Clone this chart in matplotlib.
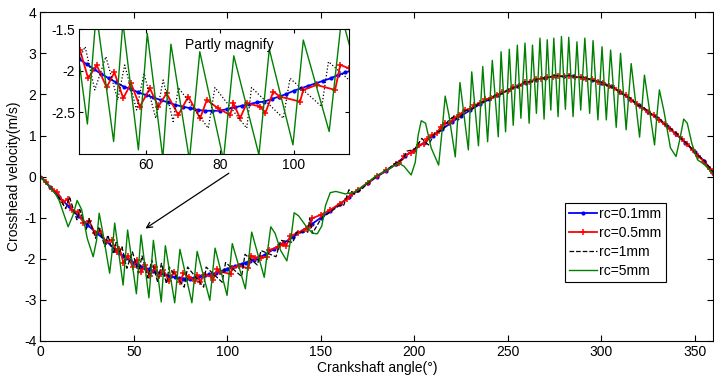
import numpy as np
import matplotlib
matplotlib.use("Agg")
import matplotlib.pyplot as plt

plt.rcParams['font.family'] = ['Liberation Sans', 'DejaVu Sans']
plt.rcParams['font.size'] = 10
plt.rcParams['axes.unicode_minus'] = False

# rc = 0.1 mm (blue, dots)
blue_x = [0, 5, 10, 15, 20, 25, 30, 35, 40,
          42, 44, 46, 48, 50, 52, 54, 56, 58, 60, 62, 64, 66, 68, 70, 72, 74, 76, 78,
          80, 82, 84, 86, 88, 90, 92, 94, 96, 98, 100, 102, 104, 106, 108, 110, 112, 114, 116,
          120, 125, 130, 135, 140, 145, 150, 155, 160, 165, 170, 175, 180, 185, 190, 195,
          200, 205, 210, 215, 220, 225, 230, 235, 240, 245, 250, 255, 260, 265, 270, 275,
          280, 285, 290, 295, 300, 305, 310, 315, 320, 325, 330, 335, 340, 345, 350, 355, 360]
blue_y = [0.00, -0.25, -0.50, -0.72, -0.95, -1.17, -1.37, -1.56, -1.78,
          -1.86, -1.92, -1.98, -2.04, -2.09, -2.14, -2.19, -2.22, -2.26, -2.29, -2.32, -2.35,
          -2.38, -2.41, -2.43, -2.45, -2.47, -2.48, -2.48, -2.48, -2.46, -2.44, -2.42, -2.40,
          -2.38, -2.37, -2.34, -2.31, -2.28, -2.24, -2.21, -2.18, -2.15, -2.12, -2.09, -2.05,
          -2.02, -1.99,
          -1.90, -1.76, -1.62, -1.47, -1.32, -1.16, -1.00, -0.84, -0.67, -0.50, -0.33, -0.16,
          0.00, 0.14, 0.30, 0.50, 0.66, 0.82, 1.00, 1.16, 1.32, 1.48, 1.62, 1.76, 1.88, 1.99,
          2.10, 2.20, 2.29, 2.36, 2.41, 2.44, 2.45, 2.44, 2.41, 2.36, 2.29, 2.20, 2.06, 1.90,
          1.74, 1.57, 1.42, 1.23, 1.03, 0.83, 0.60, 0.38, 0.09]

# rc = 0.5 mm (red, plus markers)
red_x = [0, 3, 6, 9, 12, 14.5, 17, 20, 23, 26, 29, 32, 35, 38, 41, 42.2, 44.4, 46.7, 49.4,
         51.5, 53.9, 56.0, 58.4, 61.1, 63.4, 65.6, 68.8, 71.5, 74.7, 76.5, 79.5, 82.8, 83.7,
         85.5, 87.3, 91.0, 92.3, 94.5, 96.3, 101.7, 102.6, 106.2, 111.2, 112.6, 115, 118,
         121, 122.5, 127, 130, 131.5, 133.5, 138, 142, 144, 145.5, 150, 155, 160, 164, 166.5,
         170, 175, 180, 185, 190, 192, 194.5, 198, 200, 202.3, 205, 207, 209.4, 212, 214,
         216.5, 219, 221, 224, 227, 230, 232, 235, 238, 241, 244, 247, 250, 253, 256, 259,
         262, 265, 268, 271, 274, 277, 280, 283, 286, 289, 292, 295, 298, 301, 304, 307, 310,
         313, 316, 319, 322, 325, 328, 331, 334, 337, 340, 343, 346, 349, 352, 355, 358, 360]
red_y = [0.00, -0.12, -0.31, -0.37, -0.62, -0.55, -0.82, -0.86, -1.12, -1.08, -1.36, -1.33,
         -1.60, -1.55, -1.83, -1.75, -2.09, -1.93, -2.20, -2.02, -2.33, -2.15, -2.43, -2.21,
         -2.43, -2.27, -2.53, -2.31, -2.57, -2.35, -2.45, -2.53, -2.39, -2.57, -2.39, -2.43,
         -2.51, -2.25, -2.31, -2.37, -2.23, -2.17, -2.23, -1.93, -1.97, -1.97, -1.95, -1.78,
         -1.72, -1.64, -1.68, -1.45, -1.36, -1.28, -1.20, -1.01, -0.93, -0.81, -0.66, -0.55,
         -0.42, -0.32, -0.15, 0.01, 0.15, 0.30, 0.33, 0.50, 0.58, 0.62, 0.77, 0.80, 0.92, 1.01,
         1.05, 1.20, 1.30, 1.30, 1.42, 1.50, 1.62, 1.64, 1.74, 1.78, 1.88, 1.91, 1.98, 2.05,
         2.09, 2.17, 2.21, 2.30, 2.31, 2.38, 2.38, 2.43, 2.42, 2.46, 2.44, 2.46, 2.42, 2.42,
         2.37, 2.37, 2.30, 2.27, 2.21, 2.15, 2.05, 1.98, 1.86, 1.76, 1.68, 1.58, 1.49, 1.38,
         1.27, 1.15, 1.04, 0.92, 0.79, 0.64, 0.50, 0.36, 0.18, 0.08]

# rc = 1 mm (black dashed)
black_x = [0, 5, 10, 13.5, 15.5, 19.5, 21, 24.5, 26, 29.5, 31, 34.5, 36, 39, 40.5, 42.2, 43.6,
           46.2, 49.2, 52.4, 54.3, 57.5, 59.5, 62.7, 64.7, 67.4, 68.8, 76.9, 78.7, 87.3, 88.6,
           97.2, 99.0, 107.6, 109.4, 116, 118, 126, 128.5, 135, 137, 143, 144, 145.5, 150,
           155, 160, 162.3, 165, 168, 172, 176, 180, 185, 190, 194, 196, 200, 204, 207.6, 211,
           215, 218, 221, 223.6, 227, 231, 235, 239, 243, 247, 251, 255, 259, 263, 267, 271,
           275, 279, 283, 287, 291, 295, 299, 303, 307, 311, 315, 319, 323, 327, 331, 335,
           339, 343, 347, 351, 355, 358, 360]
black_y = [0.00, -0.25, -0.52, -0.78, -0.50, -1.05, -0.80, -1.28, -1.02, -1.50, -1.22, -1.70,
           -1.42, -1.88, -1.60, -1.84, -1.71, -2.23, -1.83, -2.35, -1.93, -2.47, -2.03, -2.57,
           -2.11, -2.61, -2.20, -2.69, -2.20, -2.69, -2.20, -2.57, -2.09, -2.43, -1.89, -2.15,
           -1.80, -1.95, -1.55, -1.60, -1.35, -1.35, -1.02, -1.38, -1.03, -0.86, -0.70, -0.69,
           -0.32, -0.42, -0.30, -0.12, 0.02, 0.16, 0.33, 0.42, 0.62, 0.66, 0.93, 0.77, 1.07,
           1.12, 1.35, 1.46, 1.38, 1.60, 1.65, 1.80, 1.84, 1.98, 2.02, 2.14, 2.18, 2.31, 2.31,
           2.40, 2.40, 2.47, 2.43, 2.47, 2.41, 2.42, 2.34, 2.32, 2.22, 2.16, 2.02, 1.93, 1.76,
           1.67, 1.52, 1.42, 1.24, 1.11, 0.92, 0.75, 0.55, 0.39, 0.22, 0.10]

# rc = 5 mm (green)
green_x = [0, 5, 8, 10, 12, 14.8, 17.3, 19.6, 22, 25, 28.2, 30, 31.4, 33.5, 37.0, 38.5, 39.7,
           44.2, 46.6, 51.3, 53.8, 58.0, 60.4, 64.6, 66.8, 71.8, 74.6, 81.0, 83.8, 90.6, 93.4,
           99.8, 102.6, 109.6, 113.0, 119.7, 121.5, 123.2, 125.5, 128.5, 131.8, 134, 135.7,
           138, 142, 145.5, 148.1, 150.5, 152.5, 155.0, 158, 163.0, 168, 172.0, 179.0, 186,
           191.6, 194.5, 198.3, 200.5, 202, 203.7, 206, 209, 213.0, 214.8, 216.5, 218.5,
           221.9, 224.4, 228.9, 230.7, 234.3, 236.6, 239.2, 241.7, 244.9, 246.4,
           248.8, 250.8, 252.9, 255.1, 257.0, 259.2, 261.4, 263.2, 265.3, 267.2, 269.4, 271.1,
           273.0, 274.6, 276.9, 278.7, 280.8, 282.6, 284.9, 287.0, 289.0, 291.2, 293.8, 295.6,
           298.2, 300.4, 302.7, 305.0, 308.0, 310.3, 313.3, 316.0, 320.5, 323.1, 328.5, 329.8,
           331.1, 333.5, 337, 340.0, 342, 344.1, 346, 348.5, 351.5, 355, 358.8, 360]
green_y = [0.00, -0.25, -0.42, -0.58, -0.85, -1.22, -0.95, -0.58, -0.80, -1.50, -1.95, -1.55,
           -0.89, -1.40, -2.35, -1.75, -1.13,
           -2.64, -1.30, -2.85, -1.42, -2.95, -1.55, -3.05, -1.68, -3.07, -1.77, -3.07, -1.82,
           -3.01, -1.74, -2.89, -1.63, -2.73, -1.35, -2.45, -1.80, -1.22, -1.38, -1.80, -2.05,
           -1.50, -0.88, -0.95, -1.20, -1.38, -1.39, -1.20, -0.70, -0.39, -0.36, -0.42, -0.38,
           -0.25, 0.00, 0.18, 0.33, 0.25, 0.04, 0.35, 1.00, 1.36, 1.30, 0.70, 0.28, 1.10, 1.96,
           1.50, 0.48, 2.29, 0.65, 2.55, 0.75, 2.68, 0.85, 2.83, 0.97, 3.04,
           1.09, 3.10, 1.25, 3.20, 1.42, 3.25, 1.30, 3.20, 1.54, 3.37, 1.40, 3.33,
           1.62, 3.37, 1.46, 3.41, 1.64, 3.39, 1.46, 3.28, 1.62, 3.37, 1.54, 3.31,
           1.38, 3.16, 1.38, 3.08, 1.20, 3.00, 1.14, 2.75, 0.96, 2.47, 0.77, 1.50,
           2.11, 1.60, 0.70, 0.49, 0.90, 1.40, 1.30, 0.80, 0.41, 0.30, 0.12, 0.08]

labels = ['rc=0.1mm', 'rc=0.5mm', 'rc=1mm', 'rc=5mm']
c_blue, c_red, c_black, c_green = '#0000ff', '#ff0000', '#000000', '#008000'


def draw(ax, dotted=False):
    ax.plot(blue_x, blue_y, '-', color=c_blue, marker='.', ms=4, lw=1.3, label=labels[0])
    ax.plot(red_x, red_y, '-', color=c_red, marker='+', ms=5, mew=1.1, lw=1.3, label=labels[1])
    ax.plot(black_x, black_y, ':' if dotted else '--', color=c_black, lw=0.9, label=labels[2])
    ax.plot(green_x, green_y, '-', color=c_green, lw=1, label=labels[3])


fig = plt.figure(figsize=(7.14, 3.77), dpi=100)
ax = fig.add_axes([0.0567, 0.0955, 0.9425, 0.872])
draw(ax)
ax.set_xlim(0, 360)
ax.set_ylim(-4, 4)
ax.set_xticks(np.arange(0, 351, 50))
ax.set_yticks(np.arange(-4, 5, 1))
ax.tick_params(direction='in', top=True, right=True, length=4, pad=3)
ax.set_xlabel('Crankshaft angle(°)', labelpad=1)
ax.set_ylabel('Crosshead velocity(m/s)', labelpad=2)
leg = ax.legend(loc='lower left', bbox_to_anchor=(0.779, 0.18), borderaxespad=0,
                fancybox=False, edgecolor='black', framealpha=1, handlelength=2.0,
                handletextpad=0.2, labelspacing=0.35, borderpad=0.3)
leg.get_frame().set_linewidth(0.8)

ax.annotate('', xy=(54.9, -1.30), xytext=(102, 0.12),
            arrowprops=dict(arrowstyle='->', color='black', lw=0.9))

ins = fig.add_axes([0.111, 0.5915, 0.378, 0.331])
draw(ins, dotted=True)
ins.set_xlim(42, 115)
ins.set_ylim(-3, -1.5)
ins.set_xticks([60, 80, 100])
ins.set_yticks([-1.5, -2, -2.5])
ins.set_yticklabels(['-1.5', '-2', '-2.5'])
ins.tick_params(direction='in', top=True, right=True, length=3, pad=3)
ins.text(82.5, -1.69, 'Partly magnify', ha='center', va='center')

fig.savefig('out.png', dpi=100)
